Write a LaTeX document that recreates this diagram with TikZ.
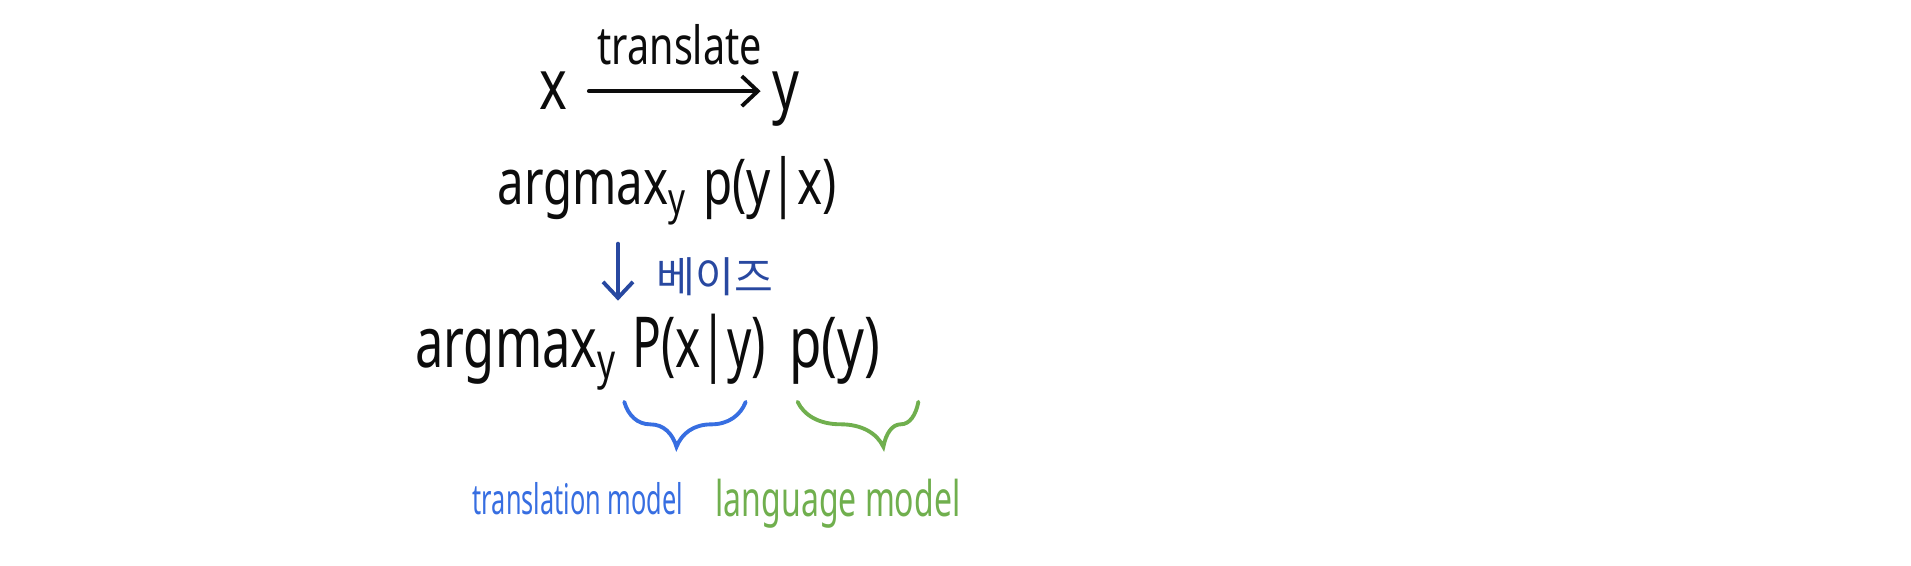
\documentclass[tikz,border=0pt]{standalone}
\usepackage{fontspec}
\usepackage{graphicx}
\usepackage{xcolor}
\usepackage{tikz}
\usetikzlibrary{positioning,arrows.meta,calc,decorations.pathreplacing}
\setmainfont{Noto Sans}
\newfontfamily\kofont{Noto Sans CJK KR}
\definecolor{ink}{RGB}{12,12,12}
\definecolor{bayesblue}{RGB}{40,72,160}
\definecolor{tmblue}{RGB}{55,110,225}
\definecolor{lmgreen}{RGB}{112,175,78}
\newcommand{\hand}[2][0.75]{\scalebox{#1}[1]{#2}}

\begin{document}
\begin{tikzpicture}[x=0.1mm,y=-0.1mm,line width=1.1pt,line cap=round,
    >={Straight Barb[length=1.6mm,width=3mm]},
    txt/.style={inner sep=0pt,anchor=base,text=ink},
    fs/.style={font=\fontsize{#1}{#1}\selectfont},
    hbrace/.style={decorate,decoration={brace,mirror,amplitude=4.5mm,aspect=#1}}]
  \useasboundingbox (0,0) rectangle (1911,566);
  % x --translate--> y
  \node[txt,fs=20] (x) at (553,110) {\hand{x}};
  \node[txt,fs=20] (y) at (786,110) {\hand{y}};
  \draw[->,ink,shorten <=2mm,shorten >=1mm] (x.east) -- (x.east -| y.west)
     node[midway,above=2.4mm,inner sep=0pt,fs=15,text=ink,xshift=1mm] {\hand{translate}};
  % argmax p(y|x)
  \node[txt,fs=18] (top) at (667,205) {\hand{argmax\textsubscript{y}\hspace{0.35em}p(y|x)}};
  % argmax P(x|y) p(y)
  \node[txt,fs=20] (a2) at (516,368) {\hand[0.72]{argmax\textsubscript{y}}};
  \node[txt,fs=20] (pxy) at (699,368) {\hand[0.68]{P(x|y)}};
  \node[txt,fs=20] (py) at (835,368) {\hand{p(y)}};
  % bayes step
  \coordinate (bx) at (618,0);
  \draw[->,bayesblue,shorten <=1.7mm,shorten >=2.7mm] (top.south -| bx) -- (a2.north -| bx);
  \node[inner sep=0pt,text=bayesblue,font=\kofont\fontsize{12}{12}\selectfont] (bayes) at (715,277) {베이즈};
  % braces and their labels
  \draw[tmblue,hbrace=0.43] ([yshift=-1.5mm,xshift=-0.6mm]pxy.south west) -- ([yshift=-1.5mm,xshift=-2.2mm]pxy.south east);
  \draw[lmgreen,hbrace=0.71] ([yshift=-1.5mm,xshift=1mm]py.south west) -- ([yshift=-1.5mm,xshift=3.6mm]py.south east);
  \node[txt,fs=12,text=tmblue] (tm) at (578,515) {\hand[0.6]{translation model}};
  \node[txt,fs=14,text=lmgreen] (lm) at (838,517) {\hand[0.65]{language model}};
\end{tikzpicture}
\end{document}
